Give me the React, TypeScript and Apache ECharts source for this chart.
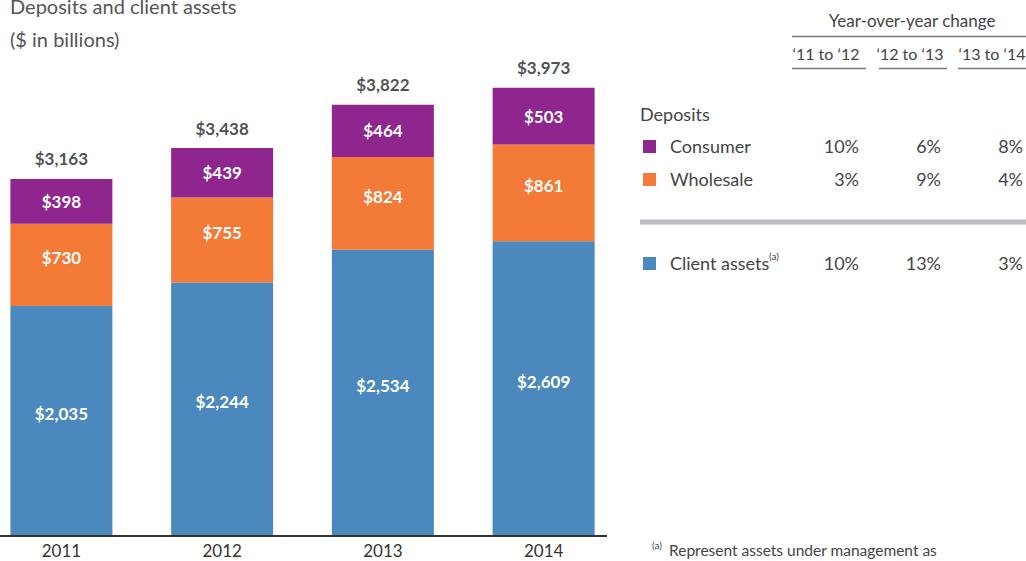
import React, { useEffect, useRef } from "react";
import * as echarts from "echarts";

const years = ["2011", "2012", "2013", "2014"];
const clientAssets = [2035, 2244, 2534, 2609];
const wholesale = [730, 755, 824, 861];
const consumer = [398, 439, 464, 503];
const totals = [3163, 3438, 3822, 3973];
const changeHeaders = ["‘11 to ‘12", "‘12 to ‘13", "‘13 to ‘14"];
const consumerChange = ["10%", "6%", "8%"];
const wholesaleChange = ["3%", "9%", "4%"];
const clientChange = ["10%", "13%", "3%"];

const PURPLE = "#8E268D";
const ORANGE = "#F47A37";
const BLUE = "#4A88BD";
const FONT = "Lato";
const TXT = "#444";
const OX = 19; // chart canvas starts 19px left of the page

const fmt = (v: number) => "$" + v.toLocaleString("en-US");

function txt(x: number, y: number, text: string, size: number, align = "left", fill = TXT, weight = "normal") {
  return {
    type: "text",
    x: x + OX,
    y,
    style: {
      text,
      fill,
      fontSize: size,
      fontFamily: FONT,
      fontWeight: weight,
      textAlign: align,
      textVerticalAlign: "middle",
    },
  };
}

function line(x1: number, y1: number, x2: number, y2: number, stroke: string, w: number) {
  return { type: "line", shape: { x1: x1 + OX, y1, x2: x2 + OX, y2 }, style: { stroke, lineWidth: w } };
}

function rect(x: number, y: number, width: number, height: number, fill: string) {
  return { type: "rect", shape: { x: x + OX, y, width, height }, style: { fill } };
}

export default function App() {
  const ref = useRef<HTMLDivElement>(null);
  useEffect(() => {
    document.body.style.margin = "0";
    document.body.style.overflow = "hidden";
    const chart = echarts.init(ref.current!, null, { renderer: "svg" });
    const colRight = [859, 941, 1023];
    const colCenter = [826, 910, 992];
    const segs = [
      [792, 866],
      [879, 947],
      [958, 1026],
    ];
    const graphics: any[] = [
      txt(10, 6, "Deposits and client assets", 20, "left", "#555"),
      txt(10, 39, "($ in billions)", 20, "left", "#555"),
      txt(912, 20, "Year-over-year change", 17, "center"),
      line(792, 36.5, 1026, 36.5, "#777", 1.5),
      txt(640, 114, "Deposits", 18),
      rect(643, 140, 13, 13, PURPLE),
      txt(670, 146, "Consumer", 18),
      rect(643, 173, 13, 13, ORANGE),
      txt(670, 179, "Wholesale", 18),
      rect(640, 219.5, 386, 5, "#BCBDC0"),
      rect(643, 257, 13, 13, BLUE),
      txt(670, 263, "Client assets", 18),
      txt(769, 256, "(a)", 10),
      txt(652, 545, "(a)", 10),
      txt(669, 550, "Represent assets under management as", 15.5),
      line(0, 536, 607, 536, "#333", 2),
    ];
    changeHeaders.forEach((h, i) => {
      graphics.push(txt(colCenter[i], 53, h, 16, "center"));
      graphics.push(line(segs[i][0], 68.5, segs[i][1], 68.5, "#777", 1.5));
      graphics.push(txt(colRight[i], 146, consumerChange[i], 18, "right"));
      graphics.push(txt(colRight[i], 179, wholesaleChange[i], 18, "right"));
      graphics.push(txt(colRight[i], 263, clientChange[i], 18, "right"));
    });

    const segLabel = (dy: number) => ({
      show: true,
      position: "inside",
      offset: [0, dy],
      color: "#fff",
      fontFamily: FONT,
      fontWeight: "bold",
      fontSize: 17,
      formatter: (p: any) => fmt(p.value),
    });

    chart.setOption({
      animation: false,
      textStyle: { fontFamily: FONT },
      grid: { left: 0, right: 402, top: 28.5, bottom: 26, containLabel: false },
      xAxis: {
        type: "category",
        data: years,
        axisLine: { show: false },
        axisTick: { show: false },
        axisLabel: { color: "#333", fontSize: 17, fontFamily: FONT, margin: 7 },
      },
      yAxis: {
        type: "value",
        min: 0,
        max: 4500,
        show: false,
        splitLine: { show: false },
      },
      series: [
        { name: "Client assets", type: "bar", stack: "t", barWidth: 102, data: clientAssets, itemStyle: { color: BLUE }, label: segLabel(-7) },
        { name: "Wholesale", type: "bar", stack: "t", barWidth: 102, data: wholesale, itemStyle: { color: ORANGE }, label: segLabel(-7) },
        { name: "Consumer", type: "bar", stack: "t", barWidth: 102, data: consumer, itemStyle: { color: PURPLE }, label: segLabel(0) },
        {
          name: "Total",
          type: "scatter",
          data: totals,
          symbolSize: 1,
          itemStyle: { color: "rgba(0,0,0,0)" },
          label: {
            show: true,
            position: "top",
            distance: 11,
            color: "#222",
            fontFamily: FONT,
            fontWeight: "bold",
            fontSize: 17,
            formatter: (p: any) => fmt(p.value),
          },
        },
      ],
      graphic: graphics,
    });
    return () => chart.dispose();
  }, []);
  return <div ref={ref} style={{ position: "absolute", left: -OX, top: 0, width: 1026 + OX, height: 561 }} />;
}
